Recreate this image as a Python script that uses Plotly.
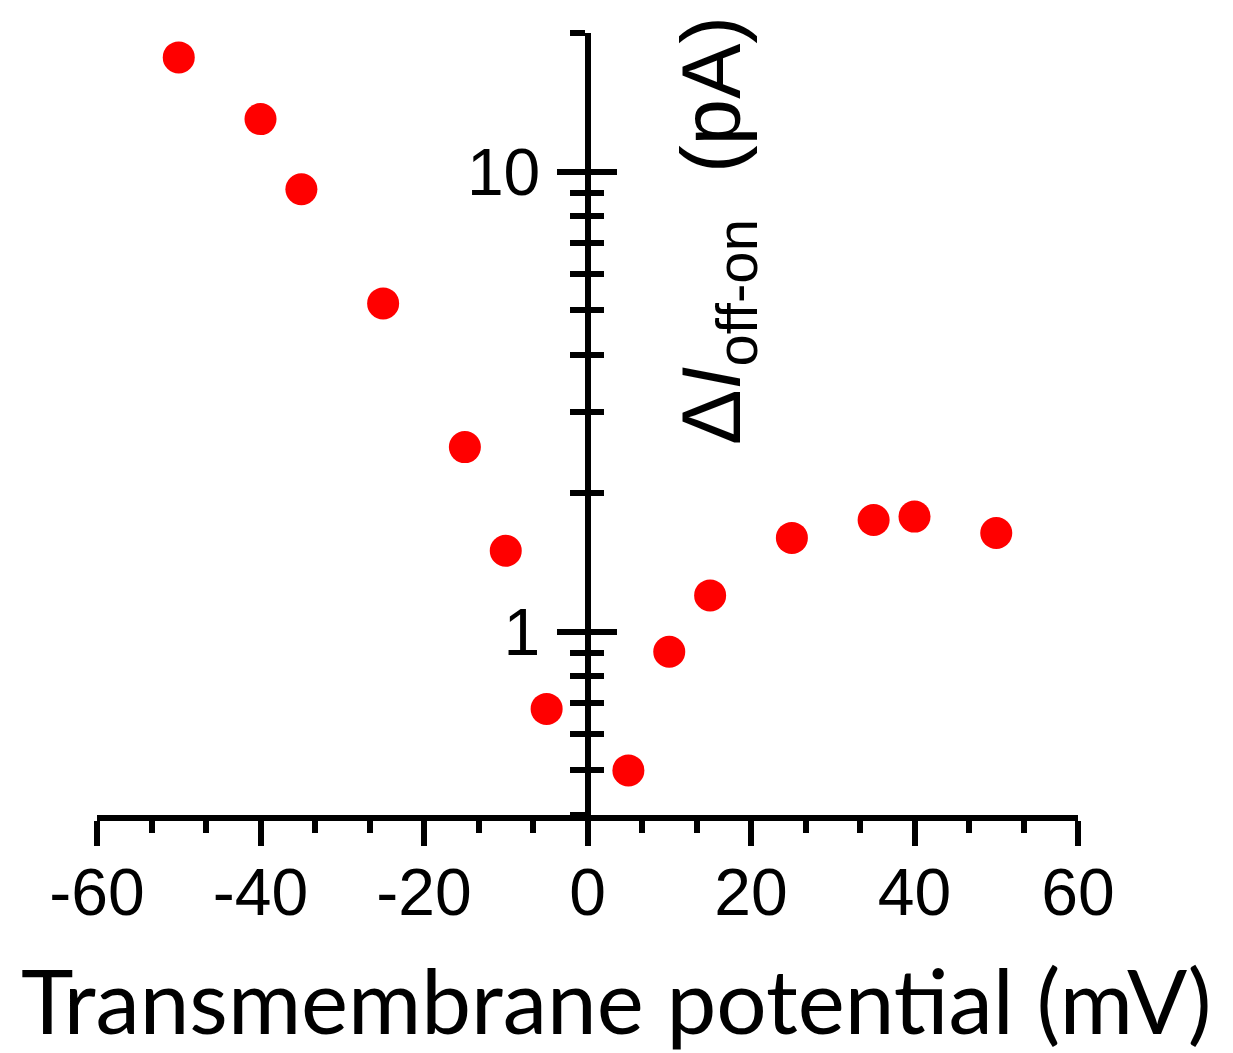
import plotly.graph_objects as go
import math

# Data
potential_mV = [-50, -40, -35, -25, -15, -10, -5, 5, 10, 15, 25, 35, 40, 50]
delta_I_pA = [17.7, 13.0, 9.15, 5.17, 2.52, 1.50, 0.68, 0.50, 0.905, 1.20, 1.60, 1.75, 1.78, 1.64]

x_major_ticks = [-60, -40, -20, 0, 20, 40, 60]
y_major_ticks = [1, 10]
y_major_labels = ["1", "10"]
y_minor_ticks = [0.4, 0.5, 0.6, 0.7, 0.8, 0.9, 2, 3, 4, 5, 6, 7, 8, 9, 20]

x_range = [-60, 60]
y_range = [0.4, 20]

W, H = 1233, 1053
LW = 6
tick_font = dict(family="Liberation Sans", size=66, color="black")

fig = go.Figure()
fig.add_trace(go.Scatter(
    x=potential_mV, y=delta_I_pA, mode="markers",
    marker=dict(color="#ff0000", size=32, line=dict(width=0)),
    cliponaxis=False, showlegend=False, yaxis="y"))
# invisible companion trace so the overlay axis (inward ticks) is drawn
fig.add_trace(go.Scatter(
    x=potential_mV, y=delta_I_pA, mode="markers",
    marker=dict(color="rgba(0,0,0,0)", size=1),
    hoverinfo="skip", showlegend=False, yaxis="y2"))

yrange_log = [math.log10(y_range[0]), math.log10(y_range[1])]

common_y = dict(
    type="log", range=yrange_log, showgrid=False, zeroline=False,
    anchor="free", position=0.5, side="left", automargin=False,
    tickmode="array", tickvals=y_major_ticks,
    ticklen=28, tickwidth=LW, tickcolor="black",
    minor=dict(tickmode="array", tickvals=y_minor_ticks, ticklen=15,
               tickwidth=LW, tickcolor="black", showgrid=False),
)

fig.update_layout(
    width=W, height=H,
    margin=dict(l=97, r=155, t=33, b=238, autoexpand=False),
    paper_bgcolor="white", plot_bgcolor="white",
    xaxis=dict(
        range=x_range, showgrid=False, zeroline=False, automargin=False,
        showline=True, linecolor="black", linewidth=LW,
        ticks="outside", tickmode="array", tickvals=x_major_ticks,
        ticktext=[str(v) for v in x_major_ticks],
        ticklen=25, tickwidth=LW, tickcolor="black",
        minor=dict(ticks="outside", dtick=20/3, tick0=-60, ticklen=12,
                   tickwidth=LW, tickcolor="black", showgrid=False),
        tickfont=tick_font, ticklabelstandoff=-10,
    ),
    yaxis=dict(
        **common_y,
        showline=True, linecolor="black", linewidth=LW,
        ticks="outside", ticktext=y_major_labels,
        tickfont=tick_font, ticklabelstandoff=3,
    ),
    yaxis2=dict(
        **common_y,
        overlaying="y",
        showline=False, ticks="inside", showticklabels=False,
    ),
)
fig.update_layout(yaxis2=dict(minor=dict(ticks="inside")),
                  yaxis=dict(minor=dict(ticks="outside")))

fig.add_annotation(
    text="Transmembrane potential (mV)",
    xref="paper", yref="paper", x=0.530, y=-0.236,
    xanchor="center", yanchor="middle", showarrow=False,
    font=dict(family="Lato", size=89, color="black"))

fig.add_annotation(
    text="Δ<i>I</i><sub>off-on</sub>  (pA)",
    xref="paper", yref="paper", x=0.632, y=0.748,
    xanchor="center", yanchor="middle", textangle=-90, showarrow=False,
    font=dict(family="Liberation Sans", size=83, color="black"))

fig.write_html("out.html", config={"displayModeBar": False},
               post_script="document.body.style.margin='0';document.body.style.padding='0';")
